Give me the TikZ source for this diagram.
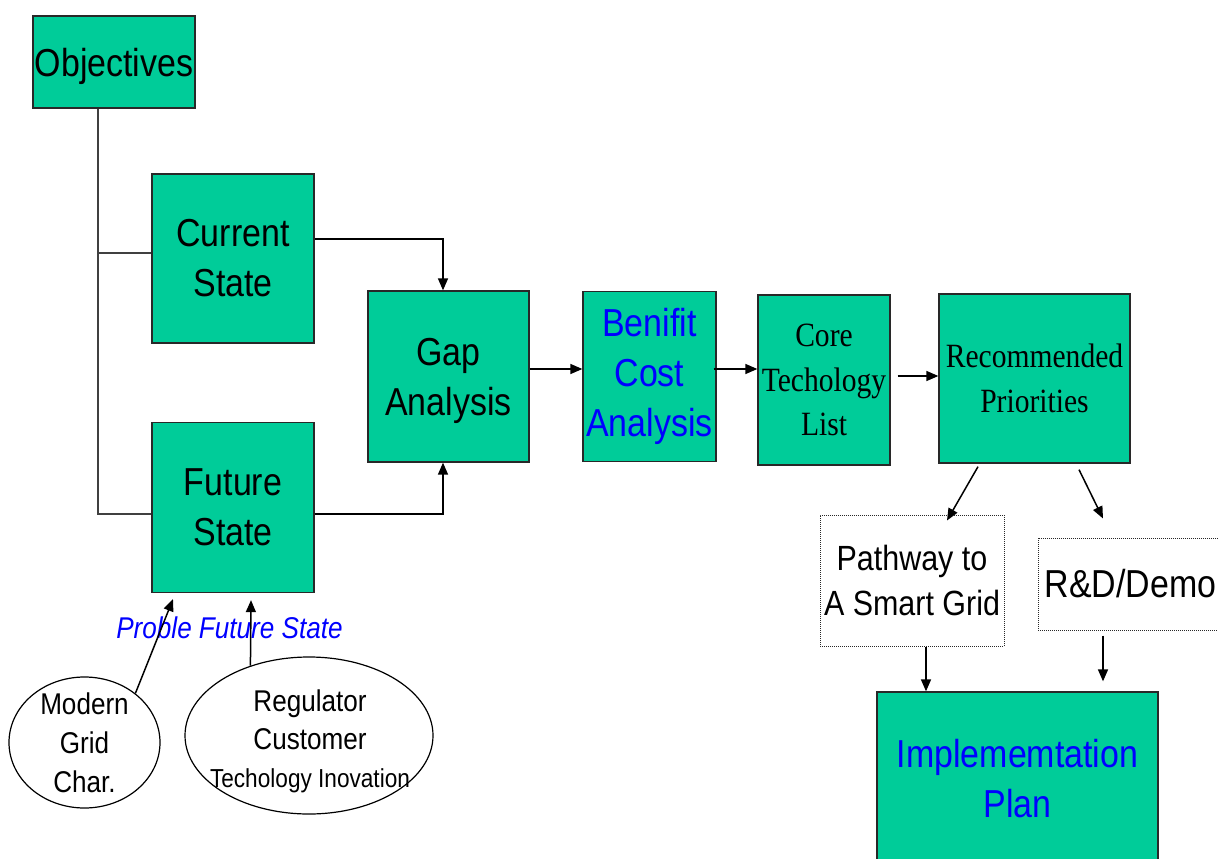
\documentclass[tikz,border=0pt]{standalone}
\usepackage{fontspec}
\setmainfont{Liberation Sans}[FakeStretch=0.87]
\newfontfamily\tnr{Liberation Serif}[FakeStretch=0.87]
\usetikzlibrary{arrows.meta,shapes.geometric,calc}
\definecolor{boxgreen}{RGB}{0,204,153}
\definecolor{edgegray}{RGB}{40,40,40}
\definecolor{txtblue}{RGB}{0,0,255}
\begin{document}
\begin{tikzpicture}[x=1pt,y=-1pt,
  box/.style={draw=edgegray,line width=1.3pt,fill=boxgreen,inner sep=0pt,align=center,
              font=\fontsize{39}{50}\selectfont},
  serifbox/.style={box,font=\tnr\fontsize{34}{44.5}\selectfont},
  dotbox/.style={draw=edgegray,line width=1pt,densely dotted,fill=white,inner sep=0pt,align=center},
  oval/.style={draw=black,line width=1.2pt,ellipse,inner sep=0pt},
  lbl/.style={inner sep=0pt,align=center},
  conn/.style={draw=black!75,line width=1.4pt},
  arr/.style={draw=black,line width=1.5pt,-{Triangle[length=12pt,width=10pt]}}
]
\useasboundingbox (0,0) rectangle (1218,859);
\clip (0,0) rectangle (1218,859);
\fill[white] (0,0) rectangle (1218,859);

% boxes
\node[box,minimum width=162pt,minimum height=92pt,text depth=0pt] (obj) at (114,62) {Objectives};
\node[box,minimum width=162pt,minimum height=169pt] (cur) at (233,258.5) {Current\\State};
\node[box,minimum width=162pt,minimum height=170pt] (fut) at (233,507.5) {Future\\State};
\node[box,minimum width=161pt,minimum height=171pt,text depth=0pt] (gap) at (448.5,376.5) {Gap\\Analysis};
\node[box,minimum width=133pt,minimum height=170pt,text=txtblue] (bca) at (649.5,376.5) {Benifit\\Cost\\Analysis};
\node[serifbox,minimum width=132pt,minimum height=170pt] (core) at (824,380) {Core\\Techology\\List};
\node[serifbox,minimum width=191pt,minimum height=169pt] (rec) at (1034.5,378.5) {Recommended\\Priorities};
\node[dotbox,minimum width=184pt,minimum height=131pt,font=\fontsize{35}{45}\selectfont] (path) at (912,580.5) {Pathway to\\A Smart Grid};
\node[dotbox,minimum width=192pt,minimum height=92pt,font=\fontsize{39}{50}\selectfont] (rd) at (1134,584) {\hspace*{-7pt}R\&D/Demo};
\node[box,minimum width=281pt,minimum height=174pt,text=txtblue] (impl) at (1017.5,779) {Implememtation\\Plan};

% ellipses
\node[oval,minimum width=151pt,minimum height=131pt] (mg) at (84.5,742.5) {};
\node[lbl,font=\fontsize{30}{39}\selectfont] (mgt) at (84.5,743) {Modern\\Grid\\Char.};
\node[oval,minimum width=248pt,minimum height=157pt] (reg) at (309,735.5) {};
\node[lbl,font=\fontsize{30}{38}\selectfont] (regt) at (310,741) {Regulator\\Customer\\{\fontsize{26}{35}\selectfont Techology Inovation}};

\node[lbl,text=txtblue,font=\itshape\fontsize{30}{36}\selectfont] (pfs) at (229.5,627.5) {Proble Future State};

% connectors from Objectives
\coordinate (jx) at (98,0);
\draw[conn] (obj.south -| jx) -- ([yshift=-6.5pt]fut.west -| jx) -- ([yshift=-6.5pt]fut.west);
\draw[conn] ([yshift=5.5pt]cur.west -| jx) -- ([yshift=5.5pt]cur.west);

% into gap
\path ([yshift=19.5pt]cur.east) coordinate (c1);
\path ([xshift=-5.5pt]gap.north) coordinate (g1);
\draw[arr] (c1) -| (g1);
\path ([yshift=-6.5pt]fut.east) coordinate (f1);
\path ([xshift=-5.5pt]gap.south) coordinate (g2);
\draw[arr] (f1) -| (g2);

% horizontal chain
\path ([yshift=7.5pt]gap.east) coordinate (h1);
\draw[arr] (h1) -- (h1 -| bca.west);
\path ([xshift=-3pt,yshift=7.5pt]bca.east) coordinate (h2);
\draw[arr] (h2) -- (h2 -| core.west);
\path ([xshift=7pt,yshift=4pt]core.east) coordinate (h3);
\draw[arr] (h3) -- (h3 -| rec.west);

% from recommended
\draw[arr] ([xshift=-56.5pt,yshift=-3pt]rec.south) -- ([xshift=35pt,yshift=-6pt]path.north);
\draw[arr] ([xshift=44.5pt,yshift=-6pt]rec.south) -- ([xshift=-31pt,yshift=19pt]rd.north);
\draw[arr] ([xshift=14pt]path.south) -- ([xshift=-91.5pt]impl.north);
\draw[arr] ([xshift=-31pt,yshift=-5pt]rd.south) -- ([xshift=85.5pt,yshift=10pt]impl.north);

% into future state
\draw[arr] (mg.44) -- ([xshift=-60pt,yshift=-6pt]fut.south);
\draw[arr] (reg.130) -- ([xshift=18pt,yshift=-7pt]fut.south);
\end{tikzpicture}
\end{document}
